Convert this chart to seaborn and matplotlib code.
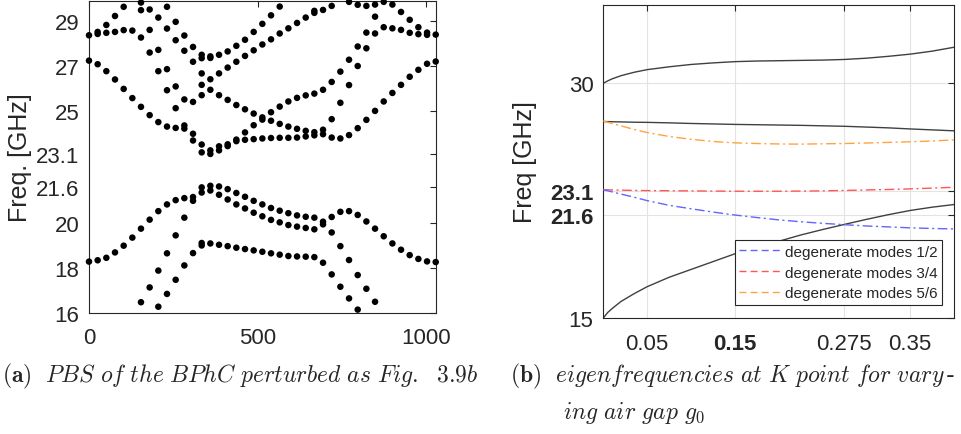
import numpy as np
import pandas as pd
import matplotlib
matplotlib.use("Agg")
import matplotlib.pyplot as plt
import seaborn as sns
from matplotlib.lines import Line2D

nan = np.nan

# ---------------- (a) photonic band structure ----------------
k_path = [0.0, 25.7, 51.4, 77.1, 102.8, 128.5, 154.1, 179.8, 205.5, 231.2,
          256.9, 282.6, 308.3, 334.0, 359.7, 385.4, 411.0, 436.7, 462.4, 488.1,
          513.8, 539.5, 565.2, 590.9, 616.6, 642.3, 667.9, 693.6, 719.3, 745.0,
          770.7, 796.4, 822.1, 847.8, 873.5, 899.2, 924.8, 950.5, 976.2, 1001.9,
          1027.6]

band_u1 = [28.38, 28.53, 28.84, 29.24, 29.65, 28.59, 29.84, 29.53, 29.17, 29.65,
           28.98, 28.37, 27.86, 27.51, 27.44, 27.51, 27.66, 27.91, 28.18, 28.53,
           28.89, 29.27, 29.66, 28.69, 28.93, 29.17, 29.47, 29.51, 29.69, 26.76,
           29.87, 29.74, 29.69, 29.75, 29.87, 29.75, 29.42, 29.07, 28.74, 28.50,
           28.41]
band_u2 = [27.25, 28.44, 28.49, 28.53, 28.61, 25.58, 29.50, 28.62, 27.73, 28.68,
           28.16, 27.69, 27.20, 27.36, 27.37, 26.68, 26.94, 27.20, 27.46, 27.71,
           27.97, 28.20, 28.46, 25.43, 25.59, 25.70, 29.38, 25.95, 26.30, 25.37,
           27.29, 27.88, 28.50, 29.21, 28.74, 28.69, 28.62, 28.49, 28.43, 28.40,
           27.21]
band_u3 = [nan, 27.09, 26.78, 26.41, 25.99, nan, 28.28, 27.61, 26.78, 26.87,
           26.10, 25.52, 25.41, 26.68, 26.42, 25.71, 25.50, 25.27, 25.08, 24.89,
           24.72, 24.95, 25.20, 24.31, 24.21, 24.12, 25.78, 24.17, 24.64, 23.78,
           26.16, 27.01, 27.80, 28.46, 25.43, 25.81, 26.17, 26.53, 26.84, 27.11,
           nan]
band_u4 = [nan, nan, nan, nan, nan, nan, 25.19, 24.82, 24.51, 25.93,
           25.13, 24.36, 23.99, 26.17, 25.95, 23.43, 23.52, 23.73, 24.05, 24.37,
           24.62, 24.57, 24.43, 23.81, 23.82, 23.87, 24.06, 23.97, 23.82, nan,
           23.93, 24.24, 24.61, 25.01, nan, nan, nan, nan, nan, nan,
           nan]
band_u5 = [nan, nan, nan, nan, nan, nan, nan, nan, nan, 24.31,
           24.25, 24.22, 23.69, 25.71, 23.25, 23.25, 23.44, 23.66, 23.72, 23.75,
           23.78, 23.80, 23.81, nan, nan, nan, 23.92, nan, nan, nan,
           nan, nan, nan, nan, nan, nan, nan, nan, nan, nan,
           nan]
band_u6 = [nan] * 13 + [23.51, 23.09] + [nan] * 26
band_u7 = [nan] * 13 + [23.16] + [nan] * 27

band_l1 = [18.29, 18.35, 18.46, 18.70, 19.00, 19.36, 19.76, 20.16, 20.54, 20.84,
           21.03, 21.12, 21.17, 21.60, 21.67, 21.64, 21.52, 21.35, 21.18, 21.00,
           20.84, 20.68, 20.56, 20.45, 20.35, 20.29, 20.25, 20.07, 20.28, 20.51,
           20.54, 20.37, 20.08, 19.76, 19.42, 19.10, 18.82, 18.58, 18.41, 18.30,
           18.27]
band_l2 = [nan, nan, nan, nan, nan, nan, 16.48, 17.14, 17.89, 18.66,
           19.46, 20.25, 21.00, 21.37, 21.46, 21.27, 21.06, 20.84, 20.66, 20.47,
           20.31, 20.15, 20.04, 19.92, 19.85, 19.79, 19.73, 19.95, 19.59, 18.98,
           18.36, 17.69, 17.08, 16.50, nan, nan, nan, nan, nan, nan,
           nan]
band_l3 = [nan, nan, nan, nan, nan, nan, nan, nan, 16.28, 16.85,
           17.48, 18.12, 18.67, 19.12, 19.10, 19.04, 18.98, 18.91, 18.85, 18.79,
           18.73, 18.66, 18.60, 18.54, 18.52, 18.51, 18.49, 18.24, 17.72, 17.17,
           16.65, 16.15, nan, nan, nan, nan, nan, nan, nan, nan,
           nan]
band_l4 = [nan] * 13 + [19.01] + [nan] * 27

left_yticks = [16, 18, 20, 21.6, 23.1, 25, 27, 29]
left_yticklabels = ["16", "18", "20", "21.6", "23.1", "25", "27", "29"]
left_xticks = [0, 500, 1000]
left_xticklabels = ["0", "500", "1000"]

# ---------------- (b) eigenfrequencies vs air gap ----------------
g0 = [0.0, 0.005, 0.01, 0.02, 0.035, 0.05, 0.075, 0.1, 0.125, 0.15,
      0.175, 0.2, 0.225, 0.25, 0.275, 0.3, 0.325, 0.35, 0.375, 0.4]
f_low = [15.0, 15.35, 15.6, 16.05, 16.55, 17.0, 17.6, 18.1, 18.6, 19.1,
         19.5, 19.9, 20.3, 20.65, 20.98, 21.3, 21.6, 21.87, 22.08, 22.25]
f_top = [30.0, 30.15, 30.28, 30.48, 30.7, 30.87, 31.05, 31.2, 31.3, 31.38,
         31.42, 31.44, 31.46, 31.48, 31.52, 31.6, 31.72, 31.86, 32.05, 32.3]
f_mid = [27.55, 27.55, 27.54, 27.53, 27.51, 27.5, 27.47, 27.43, 27.4, 27.37,
         27.35, 27.33, 27.31, 27.28, 27.25, 27.2, 27.15, 27.08, 27.02, 26.96]
f_56 = [27.59, 27.51, 27.43, 27.28, 27.05, 26.85, 26.6, 26.42, 26.28, 26.19,
        26.15, 26.12, 26.11, 26.13, 26.15, 26.18, 26.22, 26.26, 26.31, 26.38]
f_34 = [23.2, 23.19, 23.18, 23.17, 23.15, 23.14, 23.13, 23.12, 23.11, 23.1,
        23.1, 23.1, 23.11, 23.12, 23.15, 23.18, 23.21, 23.25, 23.3, 23.35]
f_12 = [23.2, 23.13, 23.06, 22.92, 22.72, 22.5, 22.2, 21.98, 21.77, 21.58,
        21.42, 21.27, 21.15, 21.05, 20.96, 20.88, 20.82, 20.76, 20.72, 20.69]

legend_labels = ["degenerate modes 1/2", "degenerate modes 3/4", "degenerate modes 5/6"]
right_xticks = [0.05, 0.15, 0.275, 0.35]
right_xticklabels = ["0.05", "0.15", "0.275", "0.35"]
right_yticks = [15, 21.6, 23.1, 30]
right_yticklabels = ["15", "21.6", "23.1", "30"]

# ---------------- styling ----------------
sns.set_style("white")
plt.rcParams["font.family"] = ["Liberation Sans", "DejaVu Sans"]
plt.rcParams["mathtext.fontset"] = "cm"

AX_COL = "#262626"
C_BLUE = "#6464ff"
C_RED = "#ff5555"
C_ORANGE = "#ffa33f"
C_BLACK = "#404040"

fig = plt.figure(figsize=(9.61, 4.35), dpi=100)
axL = fig.add_axes([0.0926, 0.2782, 0.3608, 0.7178])
axR = fig.add_axes([0.6278, 0.2667, 0.3649, 0.7195])

# ---- left panel
bands = [band_u1, band_u2, band_u3, band_u4, band_u5, band_u6, band_u7,
         band_l1, band_l2, band_l3, band_l4]
df_pbs = pd.DataFrame({
    "k": np.tile(k_path, len(bands)),
    "f": np.concatenate([np.asarray(b, dtype=float) for b in bands]),
}).dropna()
sns.scatterplot(data=df_pbs, x="k", y="f", ax=axL, color="black", s=22,
                linewidth=0, edgecolor="none", clip_on=False, zorder=4,
                legend=False)
axL.set_xlim(0, 1027.6)
axL.set_ylim(16, 29.92)
axL.set_xticks(left_xticks)
axL.set_xticklabels(left_xticklabels)
axL.set_yticks(left_yticks)
axL.set_yticklabels(left_yticklabels)
axL.set_xlabel("")
axL.set_ylabel("Freq. [GHz]", fontsize=18, color=AX_COL)
axL.yaxis.set_label_coords(-0.165, 0.5)
axL.tick_params(axis="both", direction="in", length=4, width=0.8,
                colors=AX_COL, labelsize=16, top=True, right=True)
axL.tick_params(axis="x", pad=10)
axL.tick_params(axis="y", pad=7)
for sp in axL.spines.values():
    sp.set_color(AX_COL)
    sp.set_linewidth(0.8)

# ---- right panel
axR.grid(True, color="#e3e3e3", linewidth=0.8)
axR.set_axisbelow(True)
dash_dot = (0, (7, 2.5, 1.5, 2.5))
for fvals in (f_low, f_top, f_mid):
    sns.lineplot(x=g0, y=fvals, ax=axR, color=C_BLACK, linewidth=1.0,
                 errorbar=None, sort=False, zorder=2)
sns.lineplot(x=g0, y=f_56, ax=axR, color=C_ORANGE, linewidth=1.0,
             linestyle=dash_dot, errorbar=None, sort=False, zorder=3)
sns.lineplot(x=g0, y=f_34, ax=axR, color=C_RED, linewidth=1.0,
             linestyle=dash_dot, errorbar=None, sort=False, zorder=3)
sns.lineplot(x=g0, y=f_12, ax=axR, color=C_BLUE, linewidth=1.0,
             linestyle=dash_dot, errorbar=None, sort=False, zorder=3)
axR.set_xlim(0, 0.4)
axR.set_ylim(15, 35)
axR.set_xticks(right_xticks)
axR.set_xticklabels(right_xticklabels)
axR.set_yticks(right_yticks)
axR.set_yticklabels(right_yticklabels)
for lab in axR.get_xticklabels() + axR.get_yticklabels():
    if lab.get_text() in ("0.15", "21.6", "23.1"):
        lab.set_fontweight("bold")
axR.set_ylabel("Freq [GHz]", fontsize=18, color=AX_COL)
axR.yaxis.set_label_coords(-0.19, 0.5)
axR.tick_params(axis="both", direction="in", length=4, width=0.8,
                colors=AX_COL, labelsize=16, top=True, right=True)
axR.tick_params(axis="x", pad=11)
axR.tick_params(axis="y", pad=7)
for sp in axR.spines.values():
    sp.set_color(AX_COL)
    sp.set_linewidth(0.8)

handles = [Line2D([], [], color=c, linewidth=1.0, linestyle=(0, (5, 3)))
           for c in (C_BLUE, C_RED, C_ORANGE)]
leg = axR.legend(handles, legend_labels, loc="lower right",
                 bbox_to_anchor=(0.965, 0.0415), borderaxespad=0,
                 fontsize=11, handlelength=2.8, handletextpad=0.15,
                 labelspacing=0.45, borderpad=0.3, fancybox=False,
                 framealpha=1, edgecolor=AX_COL)
leg.get_frame().set_linewidth(0.8)
for t in leg.get_texts():
    t.set_color(AX_COL)

# ---- captions
fig.text(0.002, 1 - 382 / 435,
         r"$\mathbf{(a)}\ \ \mathit{PBS\ of\ the\ BPhC\ perturbed\ as\ Fig.\ \ 3.9b}$",
         fontsize=17, ha="left", va="baseline", family=["cmr10", "DejaVu Sans"])
fig.text(0.531, 1 - 382 / 435,
         r"$\mathbf{(b)}\ \ \mathit{eigenfrequencies\ at\ K\ point\ for\ vary}\,$-",
         fontsize=17, ha="left", va="baseline", family=["cmr10", "DejaVu Sans"])
fig.text(0.586, 1 - 419 / 435,
         r"$\mathit{ing\ air\ gap}\ g_0$",
         fontsize=17, ha="left", va="baseline", family=["cmr10", "DejaVu Sans"])

fig.savefig("out.png", dpi=100)
